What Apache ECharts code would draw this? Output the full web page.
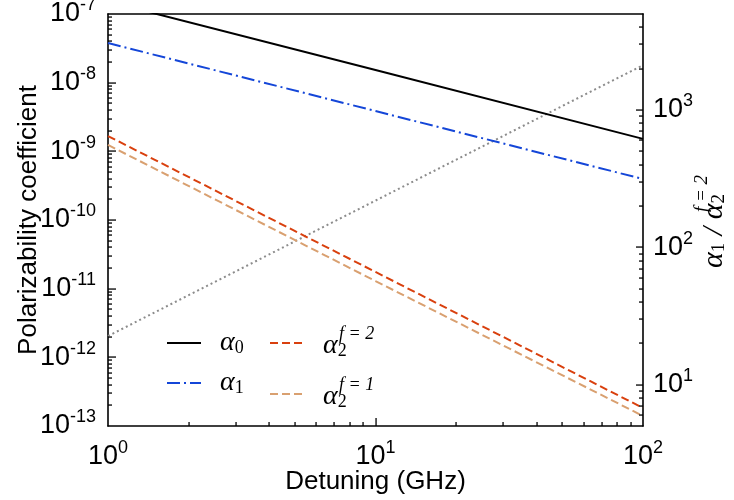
<!DOCTYPE html>
<html>
<head>
<meta charset="utf-8">
<script src="https://cdn.jsdelivr.net/npm/echarts@6/dist/echarts.min.js"></script>
<style>
html,body{margin:0;padding:0;background:#fff;}
#c{width:734px;height:500px;}
</style>
</head>
<body>
<div id="c"></div>
<script>
// ---- data ----
const detuning = [1, 10, 100];                      // GHz
const alpha0   = [1.52e-7, 1.53e-8, 1.52e-9];
const alpha1   = [3.78e-8, 3.86e-9, 3.95e-10];
const alpha2f2 = [1.67e-9, 1.75e-11, 1.83e-13];
const alpha2f1 = [1.24e-9, 1.29e-11, 1.40e-13];
const ratio    = [22.6, 219, 2120];                  // alpha1 / alpha2^{f=2}, right axis

const leftMajor   = [1e-12, 1e-11, 1e-10, 1e-9, 1e-8];
const rightMajor  = [10, 100, 1000];
const bottomMajor = [10];

// minor tick values (2..9 x decade)
function minorVals(lo, hi) {
  const out = [];
  for (let e = Math.floor(Math.log10(lo)); e <= Math.ceil(Math.log10(hi)); e++) {
    for (let m = 2; m <= 9; m++) {
      const v = m * Math.pow(10, e);
      if (v > lo * 1.0001 && v < hi * 0.9999) out.push(v);
    }
  }
  return out;
}
const leftMinor = minorVals(1e-13, 1e-7);
const rightMinor = minorVals(5, 5000);
const bottomMinor = minorVals(1, 100);

const pair = (xs, ys) => xs.map((x, i) => [x, ys[i]]);

const FONT = 'Liberation Sans, Arial, Helvetica, sans-serif';
const SERIF = 'Liberation Serif, DejaVu Serif, serif';

function expLabel(v) {
  const e = Math.log10(v);
  const r = Math.round(e);
  if (Math.abs(e - r) > 1e-6) return '';
  return '{b|10}{s|' + r + '}';
}
const tickRich = {
  b: { fontFamily: FONT, fontSize: 27, color: '#000' },
  s: { fontFamily: FONT, fontSize: 18, color: '#000', padding: [0, 0, 17, 0] }
};

const legendRich = {
  a: { fontFamily: SERIF, fontStyle: 'italic', fontSize: 28, color: '#000', lineHeight: 18 },
  sub: { fontFamily: SERIF, fontSize: 18, color: '#000', padding: [10, 0, 0, 0], lineHeight: 18 },
  sp: { width: 16, fontSize: 12, lineHeight: 6 },
  sup: { fontFamily: SERIF, fontStyle: 'italic', fontSize: 18, color: '#000', lineHeight: 6 }
};
const nameRich = {
  a: { fontFamily: SERIF, fontStyle: 'italic', fontSize: 30, color: '#000', lineHeight: 19 },
  sub: { fontFamily: SERIF, fontSize: 19, color: '#000', padding: [10, 0, 0, 0], lineHeight: 19 },
  sp2: { width: 75, fontSize: 12, lineHeight: 6 },
  sup: { fontFamily: SERIF, fontStyle: 'italic', fontSize: 19, color: '#000', lineHeight: 6 }
};

const option = {
  animation: false,
  grid: { left: 108, right: 91, top: 14, bottom: 74, outerBoundsMode: 'none' },
  legend: [
    {
      data: ['α0', 'α1'], orient: 'vertical', left: 161, top: 324, itemWidth: 34, itemHeight: 14, itemGap: 12,
      formatter: n => n === 'α0' ? '{a|α}{sub|0}' : '{a|α}{sub|1}',
      itemStyle: { opacity: 0 },
      textStyle: { rich: legendRich, padding: [0, 0, 0, 14] }
    },
    {
      data: ['α2f2', 'α2f1'], orient: 'vertical', left: 264, top: 320, itemWidth: 34, itemHeight: 14, itemGap: 16,
      formatter: n => n === 'α2f2' ? '{sp|}{sup|f = 2}\n{a|α}{sub|2}' : '{sp|}{sup|f = 1}\n{a|α}{sub|2}',
      itemStyle: { opacity: 0 },
      textStyle: { rich: legendRich, padding: [0, 0, 0, 14] }
    }
  ],
  xAxis: [
    {
      type: 'log', logBase: 10, min: 1, max: 100, position: 'bottom',
      name: 'Detuning (GHz)', nameLocation: 'middle', nameGap: 43, nameMoveOverlap: false,
      nameTextStyle: { fontFamily: FONT, fontSize: 26, color: '#000' },
      axisLine: { show: true, lineStyle: { color: '#000', width: 1.6 } },
      axisTick: { show: false },
      axisLabel: { formatter: expLabel, rich: tickRich, margin: 13, color: '#000' },
      splitLine: { show: false }
    },
    {
      type: 'log', logBase: 10, min: 1, max: 100, position: 'top',
      axisLine: { show: true, lineStyle: { color: '#000', width: 1.6 } }, axisTick: { show: false }, axisLabel: { show: false }, splitLine: { show: false }
    }
  ],
  yAxis: [
    {
      type: 'log', logBase: 10, min: 1e-13, max: 1e-7, position: 'left',
      name: 'Polarizability coefficient', nameLocation: 'middle', nameGap: 66, nameMoveOverlap: false,
      nameTextStyle: { fontFamily: FONT, fontSize: 26, color: '#000' },
      axisLine: { show: true, lineStyle: { color: '#000', width: 1.6 } },
      axisTick: { show: false },
      axisLabel: { formatter: expLabel, rich: tickRich, margin: 12, color: '#000' },
      splitLine: { show: false }
    },
    {
      type: 'log', logBase: 10, min: 5, max: 5000, position: 'right',
      name: '{sp2|}{sup|f = 2}\n{a|α}{sub|1}{a| / α}{sub|2}', nameLocation: 'middle', nameGap: 56, nameRotate: 90, nameMoveOverlap: false,
      nameTextStyle: { rich: nameRich, color: '#000', padding: [0, 22, 0, 0] },
      axisLine: { show: true, lineStyle: { color: '#000', width: 1.6 } },
      axisTick: { show: false },
      axisLabel: { formatter: expLabel, rich: tickRich, margin: 10, color: '#000', showMinLabel: false, showMaxLabel: false },
      splitLine: { show: false }
    }
  ],
  series: [
    { name: 'α0', type: 'line', data: pair(detuning, alpha0), symbol: 'none', clip: true, z: 3,
      lineStyle: { color: '#000', width: 2, type: 'solid' }, itemStyle: { color: '#000' } },
    { name: 'α1', type: 'line', data: pair(detuning, alpha1), symbol: 'none', clip: true, z: 3,
      lineStyle: { color: '#1446d8', width: 2, type: [13, 4, 2, 4] }, itemStyle: { color: '#1446d8' } },
    { name: 'α2f2', type: 'line', data: pair(detuning, alpha2f2), symbol: 'none', clip: true, z: 3,
      lineStyle: { color: '#d9400e', width: 2, type: [8, 4] }, itemStyle: { color: '#d9400e' } },
    { name: 'α2f1', type: 'line', data: pair(detuning, alpha2f1), symbol: 'none', clip: true, z: 3,
      lineStyle: { color: '#d9a070', width: 2, type: [8, 4] }, itemStyle: { color: '#d9a070' } },
    { name: 'ratio', type: 'line', yAxisIndex: 1, data: pair(detuning, ratio), symbol: 'none', clip: true, z: 2,
      lineStyle: { color: '#8c8c8c', width: 2, type: [2, 3] }, itemStyle: { color: '#8c8c8c' } }
  ]
};
const chart = echarts.init(document.getElementById('c'), null, { renderer: 'canvas' });
chart.setOption(option);

// ---- axis ticks as filled rects, positioned through the chart's own scales ----
function tickRects(vals, len, yAxisIndex, mode) {
  const f = { xAxisIndex: 0, yAxisIndex: yAxisIndex };
  return vals.map(v => {
    let p, shape;
    if (mode === 'left') { p = chart.convertToPixel(f, [1, v]); shape = { x: p[0], y: Math.round(p[1]) - 0.6, width: len, height: 1.3 }; }
    else if (mode === 'right') { p = chart.convertToPixel(f, [100, v]); shape = { x: p[0] - len, y: Math.round(p[1]) - 0.6, width: len, height: 1.3 }; }
    else { p = chart.convertToPixel(f, [v, 1e-13]); shape = { x: Math.round(p[0]) - 0.6, y: p[1] - len, width: 1.3, height: len }; }
    return { type: 'rect', shape: shape, style: { fill: '#000' }, z: 100, silent: true };
  });
}
const tickEls = [].concat(
  tickRects(leftMajor, 8, 0, 'left'), tickRects(leftMinor, 4, 0, 'left'),
  tickRects(rightMajor, 7, 1, 'right'), tickRects(rightMinor, 4, 1, 'right'),
  tickRects(bottomMajor, 8, 0, 'bottom'), tickRects(bottomMinor, 4, 0, 'bottom')
);
chart.setOption({ graphic: { elements: tickEls } });
</script>
</body>
</html>
